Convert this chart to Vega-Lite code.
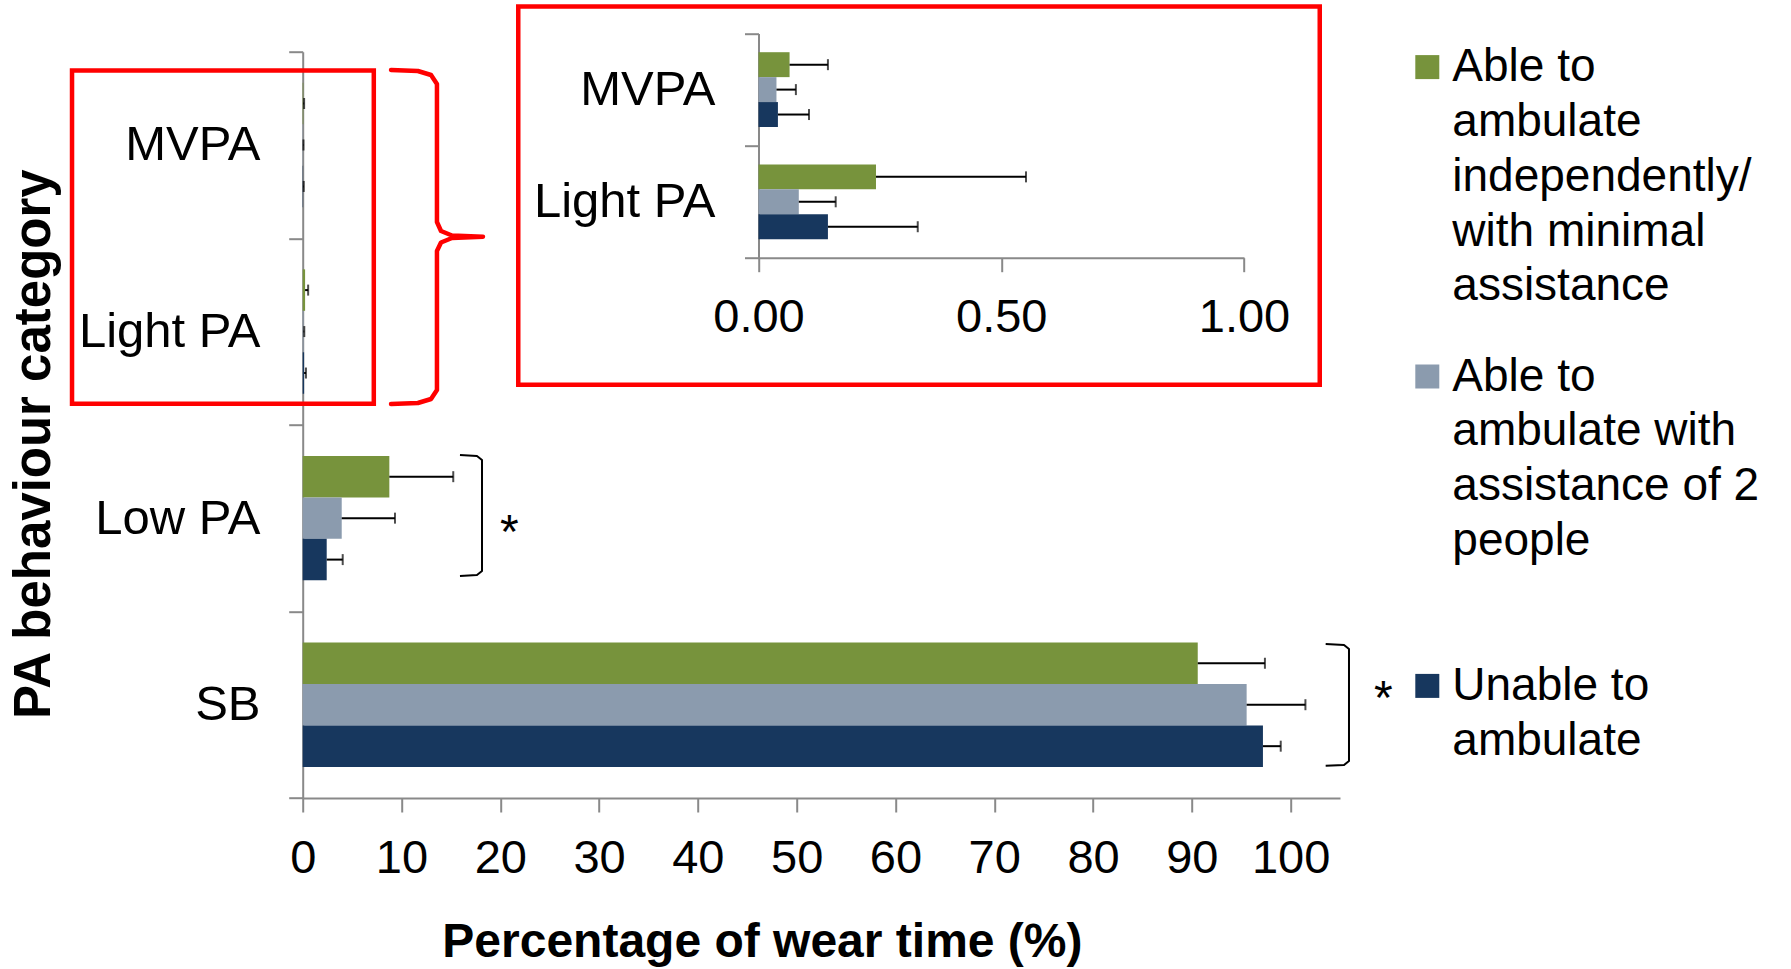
{
  "$schema": "https://vega.github.io/schema/vega-lite/v6.json",
  "width": 1037.3,
  "height": 746.3,
  "autosize": {"type": "none"},
  "padding": {"left": 302.7, "top": 51.7, "right": 451, "bottom": 171},
  "background": "white",
  "config": {
    "font": "Liberation Sans",
    "view": {"stroke": null},
    "axis": {
      "grid": false,
      "domainColor": "#898989",
      "domainWidth": 2,
      "tickColor": "#898989",
      "tickWidth": 2,
      "tickSize": 14,
      "labelFont": "Liberation Sans",
      "labelFontSize": 47,
      "labelColor": "#000000",
      "labelLimit": 500,
      "titleFont": "Liberation Sans",
      "titleColor": "#000000",
      "titleFontWeight": "bold",
      "labelOverlap": false,
      "labelBound": false,
      "labelFlush": false
    }
  },
  "datasets": {
    "pa": [
      {"category": "MVPA", "group": "Able to ambulate independently/ with minimal assistance", "mean": 0.064, "upper": 0.143},
      {"category": "MVPA", "group": "Able to ambulate with assistance of 2 people", "mean": 0.037, "upper": 0.077},
      {"category": "MVPA", "group": "Unable to ambulate", "mean": 0.040, "upper": 0.104},
      {"category": "Light PA", "group": "Able to ambulate independently/ with minimal assistance", "mean": 0.242, "upper": 0.551},
      {"category": "Light PA", "group": "Able to ambulate with assistance of 2 people", "mean": 0.083, "upper": 0.159},
      {"category": "Light PA", "group": "Unable to ambulate", "mean": 0.143, "upper": 0.328},
      {"category": "Low PA", "group": "Able to ambulate independently/ with minimal assistance", "mean": 8.77, "upper": 15.24},
      {"category": "Low PA", "group": "Able to ambulate with assistance of 2 people", "mean": 3.95, "upper": 9.34},
      {"category": "Low PA", "group": "Unable to ambulate", "mean": 2.43, "upper": 4.05},
      {"category": "SB", "group": "Able to ambulate independently/ with minimal assistance", "mean": 90.6, "upper": 97.4},
      {"category": "SB", "group": "Able to ambulate with assistance of 2 people", "mean": 95.55, "upper": 101.5},
      {"category": "SB", "group": "Unable to ambulate", "mean": 97.2, "upper": 99.0}
    ],
    "frames": [
      {"u1": -23.35, "u2": 7.197, "v1": 0.1008, "v2": 1.8872},
      {"u1": 21.82, "u2": 102.95, "v1": -0.2423, "v2": 1.7848}
    ],
    "curves": [
      {"id": "brace", "ord": 1, "u": 8.94, "v": 0.0981},
      {"id": "brace", "ord": 2, "u": 11.66, "v": 0.1034},
      {"id": "brace", "ord": 3, "u": 12.99, "v": 0.1249},
      {"id": "brace", "ord": 4, "u": 13.59, "v": 0.1731},
      {"id": "brace", "ord": 5, "u": 13.59, "v": 0.9128},
      {"id": "brace", "ord": 6, "u": 14.0, "v": 0.961},
      {"id": "brace", "ord": 7, "u": 15.11, "v": 0.9851},
      {"id": "brace", "ord": 8, "u": 18.25, "v": 0.9916},
      {"id": "brace", "ord": 9, "u": 15.11, "v": 0.9985},
      {"id": "brace", "ord": 10, "u": 14.0, "v": 1.0226},
      {"id": "brace", "ord": 11, "u": 13.59, "v": 1.0684},
      {"id": "brace", "ord": 12, "u": 13.59, "v": 1.8133},
      {"id": "brace", "ord": 13, "u": 12.99, "v": 1.8615},
      {"id": "brace", "ord": 14, "u": 11.66, "v": 1.883},
      {"id": "brace", "ord": 15, "u": 8.94, "v": 1.8883},
      {"id": "low", "ord": 1, "u": 15.92, "v": 2.1614},
      {"id": "low", "ord": 2, "u": 17.64, "v": 2.1668},
      {"id": "low", "ord": 3, "u": 18.15, "v": 2.1882},
      {"id": "low", "ord": 4, "u": 18.15, "v": 2.7832},
      {"id": "low", "ord": 5, "u": 17.64, "v": 2.8046},
      {"id": "low", "ord": 6, "u": 15.92, "v": 2.81},
      {"id": "sb", "ord": 1, "u": 103.55, "v": 3.1745},
      {"id": "sb", "ord": 2, "u": 105.41, "v": 3.1799},
      {"id": "sb", "ord": 3, "u": 105.91, "v": 3.2013},
      {"id": "sb", "ord": 4, "u": 105.91, "v": 3.8016},
      {"id": "sb", "ord": 5, "u": 105.41, "v": 3.8231},
      {"id": "sb", "ord": 6, "u": 103.55, "v": 3.8268}
    ],
    "stars": [
      {"u": 20.91, "v": 2.658, "t": "*"},
      {"u": 109.4, "v": 3.552, "t": "*"}
    ]
  },
  "layer": [
    {
      "data": {"name": "pa"},
      "encoding": {
        "y": {
          "field": "category", "type": "nominal",
          "sort": ["MVPA", "Light PA", "Low PA", "SB"],
          "scale": {"paddingInner": 0, "paddingOuter": 0},
          "axis": {
            "tickBand": "extent", "labelPadding": 28.7, "labelBaseline": "middle", "labelFontSize": 49,
            "title": "PA behaviour category", "titleFontSize": 51, "titleAngle": -90,
            "titleX": -253, "titleY": 392, "titleAlign": "center", "titleBaseline": "alphabetic"
          }
        },
        "yOffset": {
          "field": "group", "type": "nominal",
          "sort": ["Able to ambulate independently/ with minimal assistance", "Able to ambulate with assistance of 2 people", "Unable to ambulate"],
          "scale": {"paddingInner": 0, "paddingOuter": 0.75}
        }
      },
      "layer": [
        {
          "mark": {"type": "bar"},
          "encoding": {
            "x": {
              "field": "mean", "type": "quantitative", "title": "Percentage of wear time (%)",
              "scale": {"domain": [0, 105], "nice": false, "zero": true},
              "axis": {
                "values": [0, 10, 20, 30, 40, 50, 60, 70, 80, 90, 100], "format": "d",
                "labelBaseline": "alphabetic", "labelPadding": 60.7,
                "titleFontSize": 48, "titleX": 459.2, "titleY": 158.7, "titleAlign": "center", "titleBaseline": "alphabetic"
              }
            },
            "color": {
              "field": "group", "type": "nominal",
              "scale": {
                "domain": ["Able to ambulate independently/ with minimal assistance", "Able to ambulate with assistance of 2 people", "Unable to ambulate"],
                "range": ["#77933C", "#8B9BAE", "#17375E"]
              },
              "legend": {
                "orient": "none", "legendX": 1101.6, "legendY": -7.6, "title": null,
                "symbolType": "square", "symbolSize": 576, "symbolStrokeWidth": 0,
                "labelFont": "Liberation Sans", "labelFontSize": 46, "labelColor": "#000000",
                "labelOffset": 2, "labelLimit": 800, "labelBaseline": "top",
                "rowPadding": 43.4, "gridAlign": "all", "padding": 0,
                "labelExpr": "datum.label == 'Unable to ambulate' ? ['Unable to', 'ambulate', '', '', ''] : datum.label == 'Able to ambulate with assistance of 2 people' ? ['Able to', 'ambulate with', 'assistance of 2', 'people', ''] : ['Able to', 'ambulate', 'independently/', 'with minimal', 'assistance']",
                "encode": {"labels": {"update": {"lineHeight": {"value": 54.8}, "dy": {"value": -21.8}}}}
              }
            }
          }
        },
        {
          "mark": {"type": "rule", "color": "#000000", "strokeWidth": 2},
          "encoding": {
            "x": {"field": "mean", "type": "quantitative", "title": "Percentage of wear time (%)"},
            "x2": {"field": "upper"}
          }
        },
        {
          "mark": {"type": "tick", "color": "#000000", "thickness": 2, "size": 11, "orient": "vertical"},
          "encoding": {
            "x": {"field": "upper", "type": "quantitative", "title": "Percentage of wear time (%)"}
          }
        }
      ]
    },
    {
      "data": {"name": "pa"},
      "transform": [{"filter": {"field": "category", "oneOf": ["MVPA", "Light PA"]}}],
      "encoding": {
        "y": {
          "field": "category", "type": "nominal",
          "sort": ["MVPA", "Light PA"],
          "scale": {"range": [-18.2, 206.2], "paddingInner": 0, "paddingOuter": 0},
          "axis": {"orient": "left", "offset": -455.8, "tickBand": "extent", "labelPadding": 29.5, "labelBaseline": "middle", "labelFontSize": 49, "title": null}
        },
        "yOffset": {
          "field": "group", "type": "nominal",
          "sort": ["Able to ambulate independently/ with minimal assistance", "Able to ambulate with assistance of 2 people", "Unable to ambulate"],
          "scale": {"paddingInner": 0, "paddingOuter": 0.75}
        }
      },
      "layer": [
        {
          "mark": {"type": "bar"},
          "encoding": {
            "x": {
              "field": "mean", "type": "quantitative", "title": null,
              "scale": {"domain": [0, 1], "range": [455.8, 941.3], "nice": false, "zero": true},
              "axis": {"orient": "bottom", "offset": -540.3, "values": [0, 0.5, 1], "format": ".2f", "labelBaseline": "alphabetic", "labelPadding": 60, "title": null}
            },
            "color": {"field": "group", "type": "nominal"}
          }
        },
        {
          "mark": {"type": "rule", "color": "#000000", "strokeWidth": 2},
          "encoding": {
            "x": {"field": "mean", "type": "quantitative", "title": null},
            "x2": {"field": "upper"}
          }
        },
        {
          "mark": {"type": "tick", "color": "#000000", "thickness": 2, "size": 11, "orient": "vertical"},
          "encoding": {
            "x": {"field": "upper", "type": "quantitative", "title": null}
          }
        }
      ]
    },
    {
      "layer": [
        {
          "data": {"name": "frames"},
          "mark": {"type": "rect", "filled": false, "stroke": "#FF0000", "strokeWidth": 4.5},
          "encoding": {
            "x": {"field": "u1", "type": "quantitative", "scale": {"domain": [0, 105], "nice": false, "zero": false}, "axis": null},
            "x2": {"field": "u2"},
            "y": {"field": "v1", "type": "quantitative", "scale": {"domain": [0, 4], "reverse": true, "nice": false, "zero": false}, "axis": null},
            "y2": {"field": "v2"}
          }
        },
        {
          "data": {"name": "curves"},
          "transform": [{"filter": "datum.id == 'brace'"}],
          "mark": {"type": "line", "color": "#FF0000", "strokeWidth": 4.5, "strokeJoin": "round", "strokeCap": "round"},
          "encoding": {
            "x": {"field": "u", "type": "quantitative"},
            "y": {"field": "v", "type": "quantitative"},
            "order": {"field": "ord", "type": "quantitative"}
          }
        },
        {
          "data": {"name": "curves"},
          "transform": [{"filter": "datum.id != 'brace'"}],
          "mark": {"type": "line", "color": "#000000", "strokeWidth": 2, "strokeJoin": "round"},
          "encoding": {
            "x": {"field": "u", "type": "quantitative"},
            "y": {"field": "v", "type": "quantitative"},
            "detail": {"field": "id", "type": "nominal"},
            "order": {"field": "ord", "type": "quantitative"}
          }
        },
        {
          "data": {"name": "stars"},
          "mark": {"type": "text", "fontSize": 48, "baseline": "alphabetic", "align": "center", "color": "#000000", "font": "Liberation Sans"},
          "encoding": {
            "x": {"field": "u", "type": "quantitative"},
            "y": {"field": "v", "type": "quantitative"},
            "text": {"field": "t", "type": "nominal"}
          }
        }
      ]
    }
  ],
  "resolve": {"scale": {"x": "independent", "y": "independent", "yOffset": "independent"}}
}
